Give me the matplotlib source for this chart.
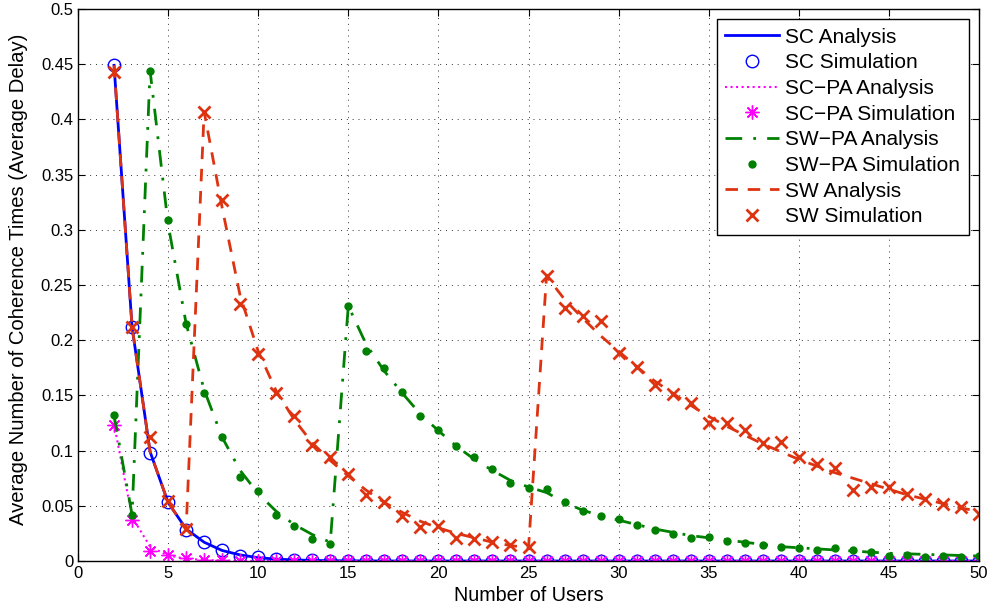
import matplotlib
matplotlib.use('Agg')
import matplotlib.pyplot as plt
import numpy as np

#number of users (x axis)
users = list(range(2, 51))

#SC curves
sc_ana = [0.449, 0.212, 0.099, 0.053, 0.029, 0.017, 0.0095, 0.0055, 0.003, 0.0017,
          0.001, 0.0005, 0.0003, 0.0002, 0.0001, 0.0, 0.0, 0.0, 0.0, 0.0,
          0.0, 0.0, 0.0, 0.0, 0.0, 0.0, 0.0, 0.0, 0.0, 0.0,
          0.0, 0.0, 0.0, 0.0, 0.0, 0.0, 0.0, 0.0, 0.0, 0.0,
          0.0, 0.0, 0.0, 0.0, 0.0, 0.0, 0.0, 0.0, 0.0]
sc_sim = [0.449, 0.212, 0.0975, 0.053, 0.028, 0.0175, 0.010, 0.0045, 0.004, 0.0015,
          0.001, 0.0005, 0.0, 0.0, 0.0, 0.0, 0.0, 0.0, 0.0, 0.0,
          0.0, 0.0, 0.0, 0.0, 0.0, 0.0, 0.0, 0.0, 0.0, 0.0,
          0.0, 0.0, 0.0, 0.0, 0.0, 0.0, 0.0, 0.0, 0.0, 0.0,
          0.0, 0.0, 0.0, 0.0, 0.0, 0.0, 0.0, 0.0, 0.0]

#SC-PA curves
scpa_ana = [0.124, 0.040, 0.013, 0.005, 0.002, 0.001, 0.0004, 0.0002, 0.0, 0.0,
            0.0, 0.0, 0.0, 0.0, 0.0, 0.0, 0.0, 0.0, 0.0, 0.0,
            0.0, 0.0, 0.0, 0.0, 0.0, 0.0, 0.0, 0.0, 0.0, 0.0,
            0.0, 0.0, 0.0, 0.0, 0.0, 0.0, 0.0, 0.0, 0.0, 0.0,
            0.0, 0.0, 0.0, 0.0, 0.0, 0.0, 0.0, 0.0, 0.0]
scpa_sim = [0.123, 0.037, 0.009, 0.005, 0.0025, 0.001, 0.0005, 0.0, 0.0, 0.0,
            0.0, 0.0, 0.0, 0.0, 0.0, 0.0, 0.0, 0.0, 0.0, 0.0,
            0.0, 0.0, 0.0, 0.0, 0.0, 0.0, 0.0, 0.0, 0.0, 0.0,
            0.0, 0.0, 0.0, 0.0, 0.0, 0.0, 0.0, 0.0, 0.0, 0.0,
            0.0, 0.0, 0.0, 0.0, 0.0, 0.0, 0.0, 0.0, 0.0]

#SW-PA curves
swpa_ana = [0.132, 0.042, 0.444, 0.305, 0.215, 0.155, 0.112, 0.082, 0.061, 0.045,
            0.033, 0.024, 0.017, 0.231, 0.196, 0.172, 0.152, 0.133, 0.118, 0.104,
            0.092, 0.082, 0.073, 0.067, 0.062, 0.053, 0.046, 0.041, 0.037, 0.033,
            0.029, 0.026, 0.023, 0.021, 0.019, 0.017, 0.015, 0.013, 0.012, 0.011,
            0.010, 0.009, 0.008, 0.007, 0.0065, 0.006, 0.0055, 0.005, 0.0045]
swpa_sim = [0.132, 0.042, 0.444, 0.309, 0.215, 0.1525, 0.112, 0.076, 0.063, 0.042,
            0.032, 0.020, 0.0154, 0.231, 0.1905, 0.175, 0.1534, 0.131, 0.119, 0.104,
            0.094, 0.083, 0.071, 0.066, 0.065, 0.053, 0.045, 0.041, 0.038, 0.033,
            0.028, 0.0245, 0.0205, 0.0215, 0.018, 0.016, 0.0145, 0.013, 0.0115, 0.010,
            0.0115, 0.010, 0.0085, 0.0048, 0.0054, 0.004, 0.0045, 0.004, 0.0048]

#SW curves
sw_ana = [0.449, 0.212, 0.099, 0.053, 0.029, 0.407, 0.320, 0.240, 0.190, 0.154,
          0.128, 0.107, 0.091, 0.077, 0.064, 0.053, 0.044, 0.036, 0.030, 0.025,
          0.021, 0.017, 0.014, 0.012, 0.258, 0.237, 0.220, 0.204, 0.190, 0.176,
          0.163, 0.152, 0.141, 0.131, 0.122, 0.114, 0.106, 0.099, 0.092, 0.086,
          0.080, 0.075, 0.070, 0.065, 0.060, 0.056, 0.052, 0.048, 0.045]
sw_sim = [0.443, 0.212, 0.112, 0.054, 0.029, 0.407, 0.327, 0.233, 0.1875, 0.152,
          0.131, 0.105, 0.094, 0.079, 0.060, 0.053, 0.041, 0.0305, 0.032, 0.0205,
          0.0197, 0.0175, 0.0145, 0.013, 0.258, 0.2295, 0.222, 0.2177, 0.188, 0.1754,
          0.159, 0.151, 0.143, 0.125, 0.125, 0.119, 0.107, 0.108, 0.094, 0.0875,
          0.0845, 0.064, 0.067, 0.067, 0.061, 0.056, 0.052, 0.0486, 0.0426]

#colours
c_sc = '#0000FF'
c_scpa = '#FF00FF'
c_swpa = '#008000'
c_sw = '#DD3311'

plt.rcParams['font.family'] = ['Liberation Sans', 'DejaVu Sans']

fig = plt.figure(figsize=(9.92, 6.11), dpi=100)
ax = fig.add_axes([78/992, 1 - 561/611, (979-78)/992, (561-9)/611])

#analysis lines + simulation markers (matlab style 8-arm asterisk)
ax.plot(users, sc_ana, '-', color=c_sc, lw=2, label='SC Analysis')
ax.plot(users, sc_sim, 'o', color=c_sc, mfc='none', ms=9, mew=1, ls='none', label='SC Simulation')
ax.plot(users, scpa_ana, ':', color=c_scpa, lw=1.5, label='SC\u2212PA Analysis')
ax.plot(users, scpa_sim, marker=(8, 2, 0), color=c_scpa, ms=10, mew=1, ls='none', label='SC\u2212PA Simulation')
ax.plot(users, swpa_ana, '-.', color=c_swpa, lw=2, dashes=(6, 4, 1, 4), label='SW\u2212PA Analysis')
ax.plot(users, swpa_sim, '.', color=c_swpa, ms=10, ls='none', label='SW\u2212PA Simulation')
ax.plot(users, sw_ana, '--', color=c_sw, lw=2, dashes=(4.5, 3.5), label='SW Analysis')
ax.plot(users, sw_sim, 'x', color=c_sw, ms=9, mew=2, ls='none', label='SW Simulation')

#axes limits and ticks
ax.set_xlim(0, 50)
ax.set_ylim(0, 0.5)
ax.set_xticks(np.arange(0, 51, 5))
ax.set_yticks(np.arange(0, 0.51, 0.05))
ax.set_yticklabels(['0', '0.05', '0.1', '0.15', '0.2', '0.25', '0.3', '0.35', '0.4', '0.45', '0.5'])
ax.tick_params(direction='in', top=True, right=True, length=5, labelsize=12)
ax.grid(True, linestyle=(0, (1, 5)), color='#333333', lw=0.7)
for s in ax.spines.values():
    s.set_linewidth(1)

ax.set_xlabel('Number of Users', fontsize=14.2, labelpad=4)
ax.set_ylabel('Average Number of Coherence Times (Average Delay)', fontsize=14.6)
ax.yaxis.set_label_coords(-0.0555, 0.51)

leg = ax.legend(loc='upper right', fontsize=15, frameon=True, fancybox=False,
                edgecolor='black', framealpha=1, borderpad=0.4, labelspacing=0.32,
                handlelength=2.6, handletextpad=0.3, borderaxespad=0.5)
leg.get_frame().set_linewidth(1)

fig.savefig('out.png', dpi=100)
